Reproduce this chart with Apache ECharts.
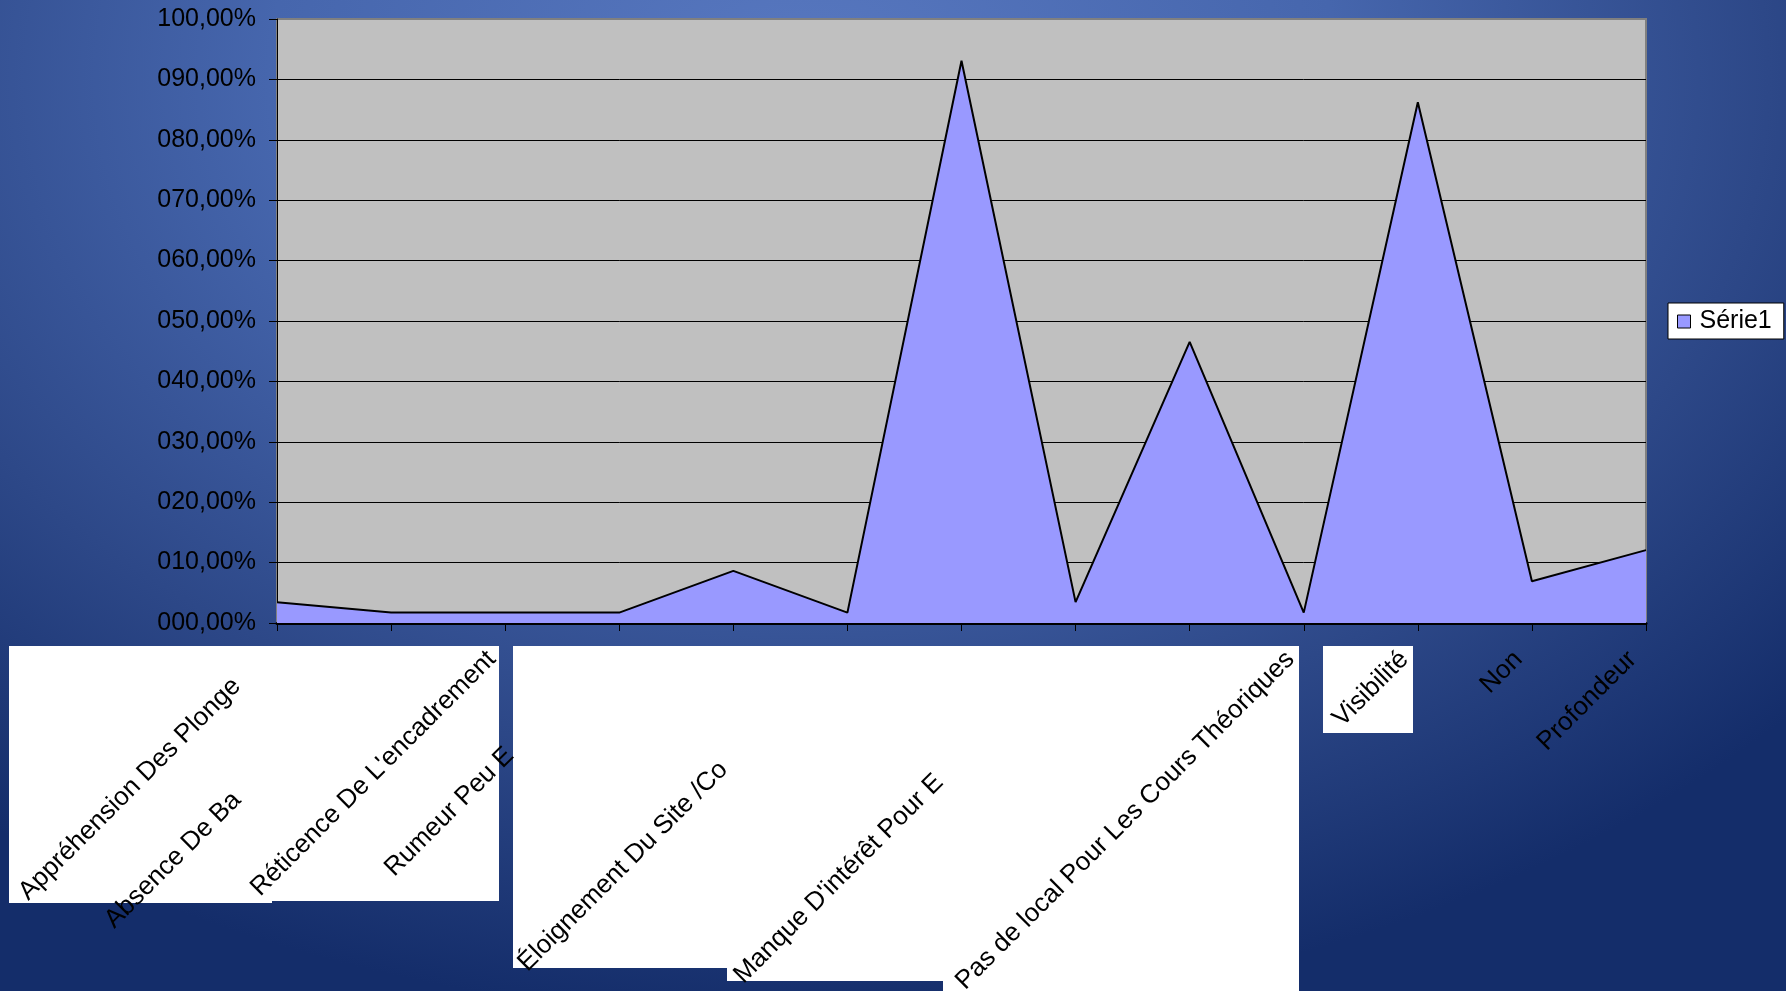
<!DOCTYPE html>
<html>
<head>
<meta charset="utf-8">
<script src="https://cdn.jsdelivr.net/npm/echarts@6/dist/echarts.min.js"></script>
<style>
  html, body { margin: 0; padding: 0; }
  #chart-container {
    width: 1786px;
    height: 991px;
    background: radial-gradient(ellipse 75% 95% at 45% 8%, #5878c0 0%, #4666ad 40%, #2d4888 72%, #142d6a 100%);
  }
</style>
</head>
<body>
<div id="chart-container"></div>
<script>
var dom = document.getElementById("chart-container");
var myChart = echarts.init(dom, null, { renderer: "canvas" });

// categories as they can be read on the slide (some are cut off, three are not visible)
var categories = [
  "Appréhension Des Plonge",
  "Absence De Ba",
  "Réticence De L'encadrement",
  "Rumeur Peu E",
  "",
  "Éloignement Du Site /Co",
  "",
  "Manque D'intérêt Pour E",
  "",
  "Pas de local Pour Les Cours Théoriques",
  "Visibilité",
  "Non",
  "Profondeur"
];
// percentages
var values = [3.45, 1.72, 1.72, 1.72, 8.62, 1.72, 93.1, 3.45, 46.55, 1.72, 86.21, 6.9, 12.07];
var seriesName = "Série1";

// how far the labels sit back from their tick (along the text)
var labelShift = [57, 218, 19, 155, 19, 175, 19, 193, 19, 19, 19, 19, 19];

var font = "'Liberation Sans', Arial, sans-serif";

var axisData = categories.map(function (c, i) {
  return {
    value: c,
    textStyle: { padding: [0, labelShift[i], 0, 0] }
  };
});

var gridColors = [];
for (var k = 0; k < 10; k++) gridColors.push("#000000");
gridColors.push("#808080");

// white boxes lying over the category labels on the slide
var boxes = [
  [9, 646, 263, 257],
  [272, 646, 227, 255],
  [513, 646, 214, 322],
  [727, 646, 216, 335],
  [943, 646, 356, 345],
  [1323, 646, 90, 87]
];

var option = {
  animation: false,
  textStyle: { fontFamily: font },
  graphic: boxes.map(function (b) {
    return {
      type: "rect",
      z: -1,
      shape: { x: b[0], y: b[1], width: b[2], height: b[3] },
      style: { fill: "#ffffff" }
    };
  }),
  grid: {
    left: 277,
    right: 140,
    top: 19,
    bottom: 368,
    containLabel: false,
    outerBoundsMode: "none",
    show: true,
    backgroundColor: "#c0c0c0",
    borderColor: "#808080",
    borderWidth: 2
  },
  legend: {
    left: 1668,
    top: 303,
    orient: "vertical",
    data: [{ name: seriesName, icon: "rect" }],
    backgroundColor: "#ffffff",
    borderColor: "#000000",
    borderWidth: 1,
    borderRadius: 0,
    padding: [6, 12, 5, 9],
    itemWidth: 13,
    itemHeight: 13,
    itemStyle: { borderColor: "#000000", borderWidth: 1 },
    textStyle: { fontSize: 25, color: "#000000", fontFamily: font, padding: [0, 0, 0, 4] }
  },
  xAxis: {
    type: "category",
    boundaryGap: false,
    data: axisData,
    axisLine: { lineStyle: { color: "#000000", width: 3 } },
    axisTick: { show: true, length: 8, lineStyle: { color: "#000000", width: 1 } },
    axisLabel: {
      interval: 0,
      rotate: 45,
      margin: 19,
      fontSize: 26,
      color: "#000000",
      fontFamily: font
    },
    splitLine: { show: false }
  },
  yAxis: {
    type: "value",
    min: 0,
    max: 100,
    interval: 10,
    axisLine: { show: true, lineStyle: { color: "#000000", width: 1 } },
    axisTick: { show: true, length: 8, lineStyle: { color: "#000000" } },
    axisLabel: {
      margin: 21,
      fontSize: 25,
      color: "#000000",
      fontFamily: font,
      formatter: function (v) {
        return String(v).padStart(3, "0") + ",00%";
      }
    },
    splitLine: { show: true, lineStyle: { color: gridColors, width: 1 } }
  },
  series: [
    {
      name: seriesName,
      type: "line",
      data: values,
      symbol: "none",
      itemStyle: { color: "#9999ff" },
      lineStyle: { color: "#000000", width: 2 },
      areaStyle: { color: "#9999ff", opacity: 1 }
    }
  ]
};

myChart.setOption(option);
window.addEventListener("resize", myChart.resize);
</script>
</body>
</html>
